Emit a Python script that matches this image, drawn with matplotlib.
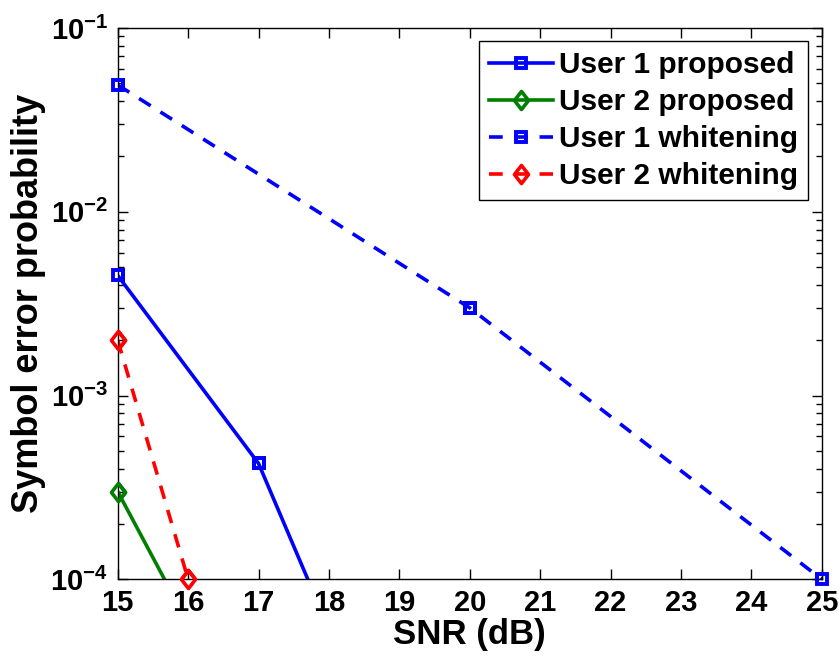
import matplotlib
matplotlib.use("Agg")
import matplotlib.pyplot as plt
from matplotlib.path import Path
from matplotlib.ticker import FixedLocator, FixedFormatter, LogLocator, NullFormatter

plt.rcParams['font.family'] = ['Liberation Sans', 'DejaVu Sans']
plt.rcParams['font.weight'] = 'bold'
plt.rcParams['mathtext.fontset'] = 'custom'
plt.rcParams['mathtext.rm'] = 'Liberation Sans:bold'
plt.rcParams['mathtext.default'] = 'rm'

# SNR points and symbol error probabilities
snr_u1_prop = [15, 17, 20]
ser_u1_prop = [4.5e-3, 4.27e-4, 8.5e-7]
snr_u2_prop = [15, 17]
ser_u2_prop = [3.0e-4, 1.1e-5]
snr_u1_white = [15, 20, 25]
ser_u1_white = [4.9e-2, 3.0e-3, 1.0e-4]
snr_u2_white = [15, 16]
ser_u2_white = [2.0e-3, 1.0e-4]

legend_labels = ["User 1 proposed", "User 2 proposed", "User 1 whitening", "User 2 whitening"]
x_ticks = list(range(15, 26))
y_ticks = [1e-4, 1e-3, 1e-2, 1e-1]
y_tick_labels = [r"$10^{-4}$", r"$10^{-3}$", r"$10^{-2}$", r"$10^{-1}$"]
y_lim = (1e-4, 1e-1)

# slightly narrow diamond marker
diamond = Path([(0, 1), (0.78, 0), (0, -1), (-0.78, 0), (0, 1)],
               [Path.MOVETO, Path.LINETO, Path.LINETO, Path.LINETO, Path.CLOSEPOLY])

fig = plt.figure(figsize=(8.39, 6.57), dpi=100)
ax = fig.add_axes([0.1403, 0.1183, 0.9794 - 0.1403, 0.9574 - 0.1183])

lw = 2.6
dash = (0, (3.8, 3.2))
series = [
    (snr_u1_prop, ser_u1_prop, '-', '#0000ff', 's', legend_labels[0]),
    (snr_u2_prop, ser_u2_prop, '-', '#008000', diamond, legend_labels[1]),
    (snr_u1_white, ser_u1_white, dash, '#0000ff', 's', legend_labels[2]),
    (snr_u2_white, ser_u2_white, dash, '#ff0000', diamond, legend_labels[3]),
]
for x, y, ls, col, mk, lab in series:
    ms = 7.2 if mk == 's' else 13
    mew = 2.8 if mk == 's' else 2.6
    ax.plot(x, y, linestyle=ls, color=col, lw=lw, marker=mk, markersize=ms,
            markeredgewidth=mew, markerfacecolor='none', label=lab)
    # markers that sit on the axes border are drawn whole
    pts = [(a, b) for a, b in zip(x, y) if y_lim[0] <= b <= y_lim[1]]
    ax.plot([p[0] for p in pts], [p[1] for p in pts], linestyle='none', color=col,
            marker=mk, markersize=ms, markeredgewidth=mew, markerfacecolor='none',
            clip_on=False, zorder=3)

ax.set_yscale('log')
ax.set_xlim(15, 25)
ax.set_ylim(*y_lim)
ax.xaxis.set_major_locator(FixedLocator(x_ticks))
ax.yaxis.set_major_locator(FixedLocator(y_ticks))
ax.yaxis.set_major_formatter(FixedFormatter(y_tick_labels))
ax.yaxis.set_minor_locator(LogLocator(base=10, subs=range(2, 10)))
ax.yaxis.set_minor_formatter(NullFormatter())
ax.xaxis.set_minor_locator(FixedLocator([]))

ax.tick_params(which='both', direction='in', top=True, right=True, labelsize=21, width=1.0)
ax.tick_params(which='major', length=7, pad=7)
ax.tick_params(which='minor', length=4)
for s in ax.spines.values():
    s.set_linewidth(1.0)

ax.set_xlabel("SNR (dB)", fontsize=25, fontweight='bold', labelpad=1)
ax.set_ylabel("Symbol error probability", fontsize=26, fontweight='bold', labelpad=3)

leg = ax.legend(loc='upper right', fontsize=21.5, handlelength=2.15, handletextpad=0.2,
                borderpad=0.33, labelspacing=0.3, fancybox=False, framealpha=1,
                edgecolor='black', borderaxespad=0.45)
leg.get_frame().set_linewidth(1.0)

fig.savefig("out.png", dpi=100)
